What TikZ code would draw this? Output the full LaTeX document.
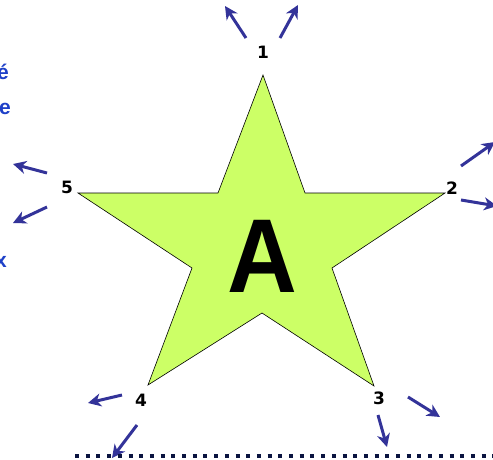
\documentclass[tikz,border=0pt]{standalone}
\usepackage{fontspec}
\setmainfont{Liberation Sans}
\newfontfamily\heavy{DejaVu Sans}
\usetikzlibrary{arrows.meta}
\definecolor{starfill}{RGB}{204,255,102}
\definecolor{arrowblue}{RGB}{51,51,153}
\definecolor{textblue}{RGB}{30,64,200}
\definecolor{dotnavy}{RGB}{10,20,64}
\tikzset{
  ptr/.style={draw=arrowblue, line width=3pt, -{Stealth[length=13pt,width=13pt,inset=4pt]}},
  num/.style={font=\heavy\bfseries\fontsize{17}{17}\selectfont, inner sep=0pt},
  sidetext/.style={text=textblue, font=\bfseries\fontsize{21}{21}\selectfont, inner sep=0pt, anchor=east},
}
\begin{document}
\begin{tikzpicture}[x=1pt,y=-1pt]
\useasboundingbox (0,0) rectangle (493,459);
% star
\coordinate (p1) at (263,75);
\coordinate (q1) at (305,193);
\coordinate (p2) at (445,193);
\coordinate (q2) at (332,268);
\coordinate (p3) at (374,386);
\coordinate (q3) at (262,313);
\coordinate (p4) at (148,385);
\coordinate (q4) at (192,268);
\coordinate (p5) at (78,193);
\coordinate (q5) at (218,193);
\draw[fill=starfill, line width=0.6pt, line join=miter] (p1)--(q1)--(p2)--(q2)--(p3)--(q3)--(p4)--(q4)--(p5)--(q5)--cycle;
\node[font=\bfseries\fontsize{105}{105}\selectfont, xscale=0.92, inner sep=0pt] (bigA) at (262,256) {A};
% labels
\node[num] (n1) at (263,52) {1};
\node[num] (n2) at (452,188) {2};
\node[num] (n3) at (379,398) {3};
\node[num] (n4) at (141,400) {4};
\node[num] (n5) at (67,187) {5};
% arrows
\coordinate (a1t) at (246,38); \coordinate (a1h) at (225,6);
\coordinate (b1t) at (280,38); \coordinate (b1h) at (298,5);
\coordinate (a2t) at (461,166); \coordinate (a2h) at (495,142);
\coordinate (b2t) at (461,200); \coordinate (b2h) at (497,206);
\coordinate (a3t) at (408,397); \coordinate (a3h) at (440,417);
\coordinate (b3t) at (378,415); \coordinate (b3h) at (387,447);
\coordinate (a4t) at (122,395); \coordinate (a4h) at (88,403);
\coordinate (b4t) at (137,425); \coordinate (b4h) at (112,458);
\coordinate (a5t) at (47,173); \coordinate (a5h) at (13,164);
\coordinate (b5t) at (47,207); \coordinate (b5h) at (13,223);
\foreach \s in {a1,b1,a2,b2,a3,b3,a4,b4,a5,b5}{\draw[ptr] (\s t) -- (\s h);}
% cut-off side text
\node[sidetext] (t1) at (9,72) {é};
\node[sidetext] (t2) at (11,109) {e};
\node[sidetext] (t3) at (7,262) {x};
% dotted rule
\coordinate (d0) at (75,456); \coordinate (d1) at (493,456);
\draw[dotnavy, line width=4pt, dash pattern=on 4pt off 6.7pt] (d0) -- (d1);
\end{tikzpicture}
\end{document}
